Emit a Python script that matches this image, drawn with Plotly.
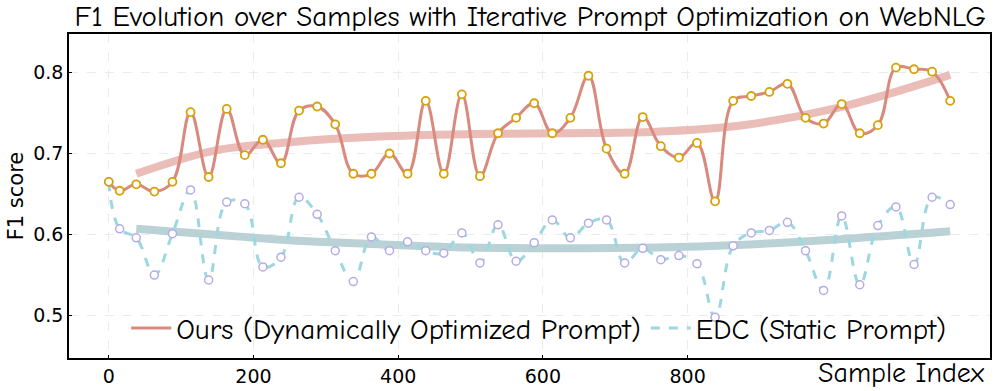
import plotly.graph_objects as go

# sample index of every evaluation point
sample_idx = [0, 15, 38, 63, 88, 113, 138, 163, 188, 213, 238, 263, 288, 313, 338,
              363, 388, 413, 438, 463, 488, 513, 538, 563, 588, 613, 638, 663, 688,
              713, 738, 763, 788, 813, 838, 863, 888, 913, 938, 963, 988, 1013, 1038,
              1063, 1088, 1113, 1138, 1163]

ours_f1 = [0.665, 0.654, 0.662, 0.653, 0.665, 0.751, 0.671, 0.755, 0.698, 0.717,
           0.688, 0.753, 0.758, 0.736, 0.675, 0.675, 0.700, 0.675, 0.765, 0.675,
           0.773, 0.672, 0.725, 0.744, 0.762, 0.725, 0.744, 0.796, 0.706, 0.675,
           0.745, 0.709, 0.695, 0.713, 0.641, 0.765, 0.771, 0.776, 0.786, 0.744,
           0.737, 0.761, 0.725, 0.735, 0.806, 0.804, 0.801, 0.765]

edc_f1 = [0.665, 0.607, 0.596, 0.550, 0.601, 0.655, 0.544, 0.640, 0.638, 0.560,
          0.572, 0.646, 0.625, 0.580, 0.542, 0.597, 0.580, 0.591, 0.580, 0.577,
          0.602, 0.565, 0.612, 0.567, 0.590, 0.618, 0.596, 0.614, 0.618, 0.565,
          0.583, 0.569, 0.574, 0.564, 0.498, 0.586, 0.602, 0.605, 0.615, 0.580,
          0.531, 0.623, 0.538, 0.611, 0.634, 0.563, 0.646, 0.637]

# smoothed trends
trend_idx = [38, 143, 250, 373, 500, 621, 758, 868, 1006, 1163]
ours_trend = [0.675, 0.703, 0.714, 0.721, 0.724, 0.725, 0.727, 0.734, 0.756, 0.797]
edc_trend = [0.607, 0.600, 0.593, 0.588, 0.584, 0.583, 0.584, 0.587, 0.594, 0.604]

x_ticks = [0, 200, 400, 600, 800]
y_ticks = [0.5, 0.6, 0.7, 0.8]

COMIC = "Comic Sans MS, Comic Neue, Noto Sans, sans-serif"
SANS = "DejaVu Sans, sans-serif"

fig = go.Figure()

fig.add_trace(go.Scatter(
    x=trend_idx, y=ours_trend, mode="lines",
    line=dict(color="#e3a7a1", width=8, shape="spline"),
    opacity=0.75, showlegend=False, hoverinfo="skip"
))
fig.add_trace(go.Scatter(
    x=trend_idx, y=edc_trend, mode="lines",
    line=dict(color="#a9c7cc", width=8, shape="spline"),
    opacity=0.8, showlegend=False, hoverinfo="skip"
))

fig.add_trace(go.Scatter(
    x=sample_idx, y=edc_f1, mode="lines",
    name="EDC (Static Prompt)",
    line=dict(color="#9dd8e0", width=3, dash="dash", shape="spline", smoothing=1.1),
))
fig.add_trace(go.Scatter(
    x=sample_idx, y=edc_f1, mode="markers", showlegend=False,
    marker=dict(size=8, color="white", line=dict(color="#b3ace6", width=1.5)),
))

fig.add_trace(go.Scatter(
    x=sample_idx, y=ours_f1, mode="lines",
    name="Ours (Dynamically Optimized Prompt)",
    line=dict(color="#d98a7e", width=3, shape="spline", smoothing=1.1),
))
fig.add_trace(go.Scatter(
    x=sample_idx, y=ours_f1, mode="markers", showlegend=False,
    marker=dict(size=8, color="white", line=dict(color="#d6a208", width=1.8)),
))

axis_common = dict(
    showline=True, linecolor="black", linewidth=1.5, mirror=True,
    showgrid=True, gridcolor="#ebebeb", griddash="dash", gridwidth=1,
    zeroline=False, ticks="inside", ticklen=3, tickcolor="black",
    tickfont=dict(family=SANS, size=19, color="black"),
)

fig.update_layout(
    width=996, height=391,
    margin=dict(l=69, r=4, t=34, b=31),
    paper_bgcolor="white", plot_bgcolor="white",
    title=dict(
        text="F1 Evolution over Samples with Iterative Prompt Optimization on WebNLG",
        x=0.5325, xanchor="center", y=0.96, yanchor="middle",
        font=dict(family=COMIC, size=29, color="black"),
    ),
    xaxis=dict(range=[-55, 1218], tickvals=x_ticks, **axis_common),
    yaxis=dict(
        range=[0.4476, 0.8475], tickvals=y_ticks, tickformat=".1f",
        title=dict(text="F1 score", font=dict(family=SANS, size=21, color="black"),
                   standoff=4),
        **axis_common,
    ),
    legend=dict(
        orientation="h", x=0.51, xanchor="center", y=0.092, yanchor="middle",
        bgcolor="rgba(0,0,0,0)", traceorder="reversed",
        font=dict(family=COMIC, size=29, color="black"),
        itemwidth=40,
    ),
    annotations=[dict(
        text="Sample Index", xref="paper", yref="paper",
        x=0.997, y=-0.046, xanchor="right", yanchor="middle", showarrow=False,
        font=dict(family=COMIC, size=28, color="black"),
    )],
)

# drop the browser's default 8px body margin so the figure sits at the page corner
fig.write_html("out.html", config={"displayModeBar": False},
               post_script="document.body.style.margin='0';")
